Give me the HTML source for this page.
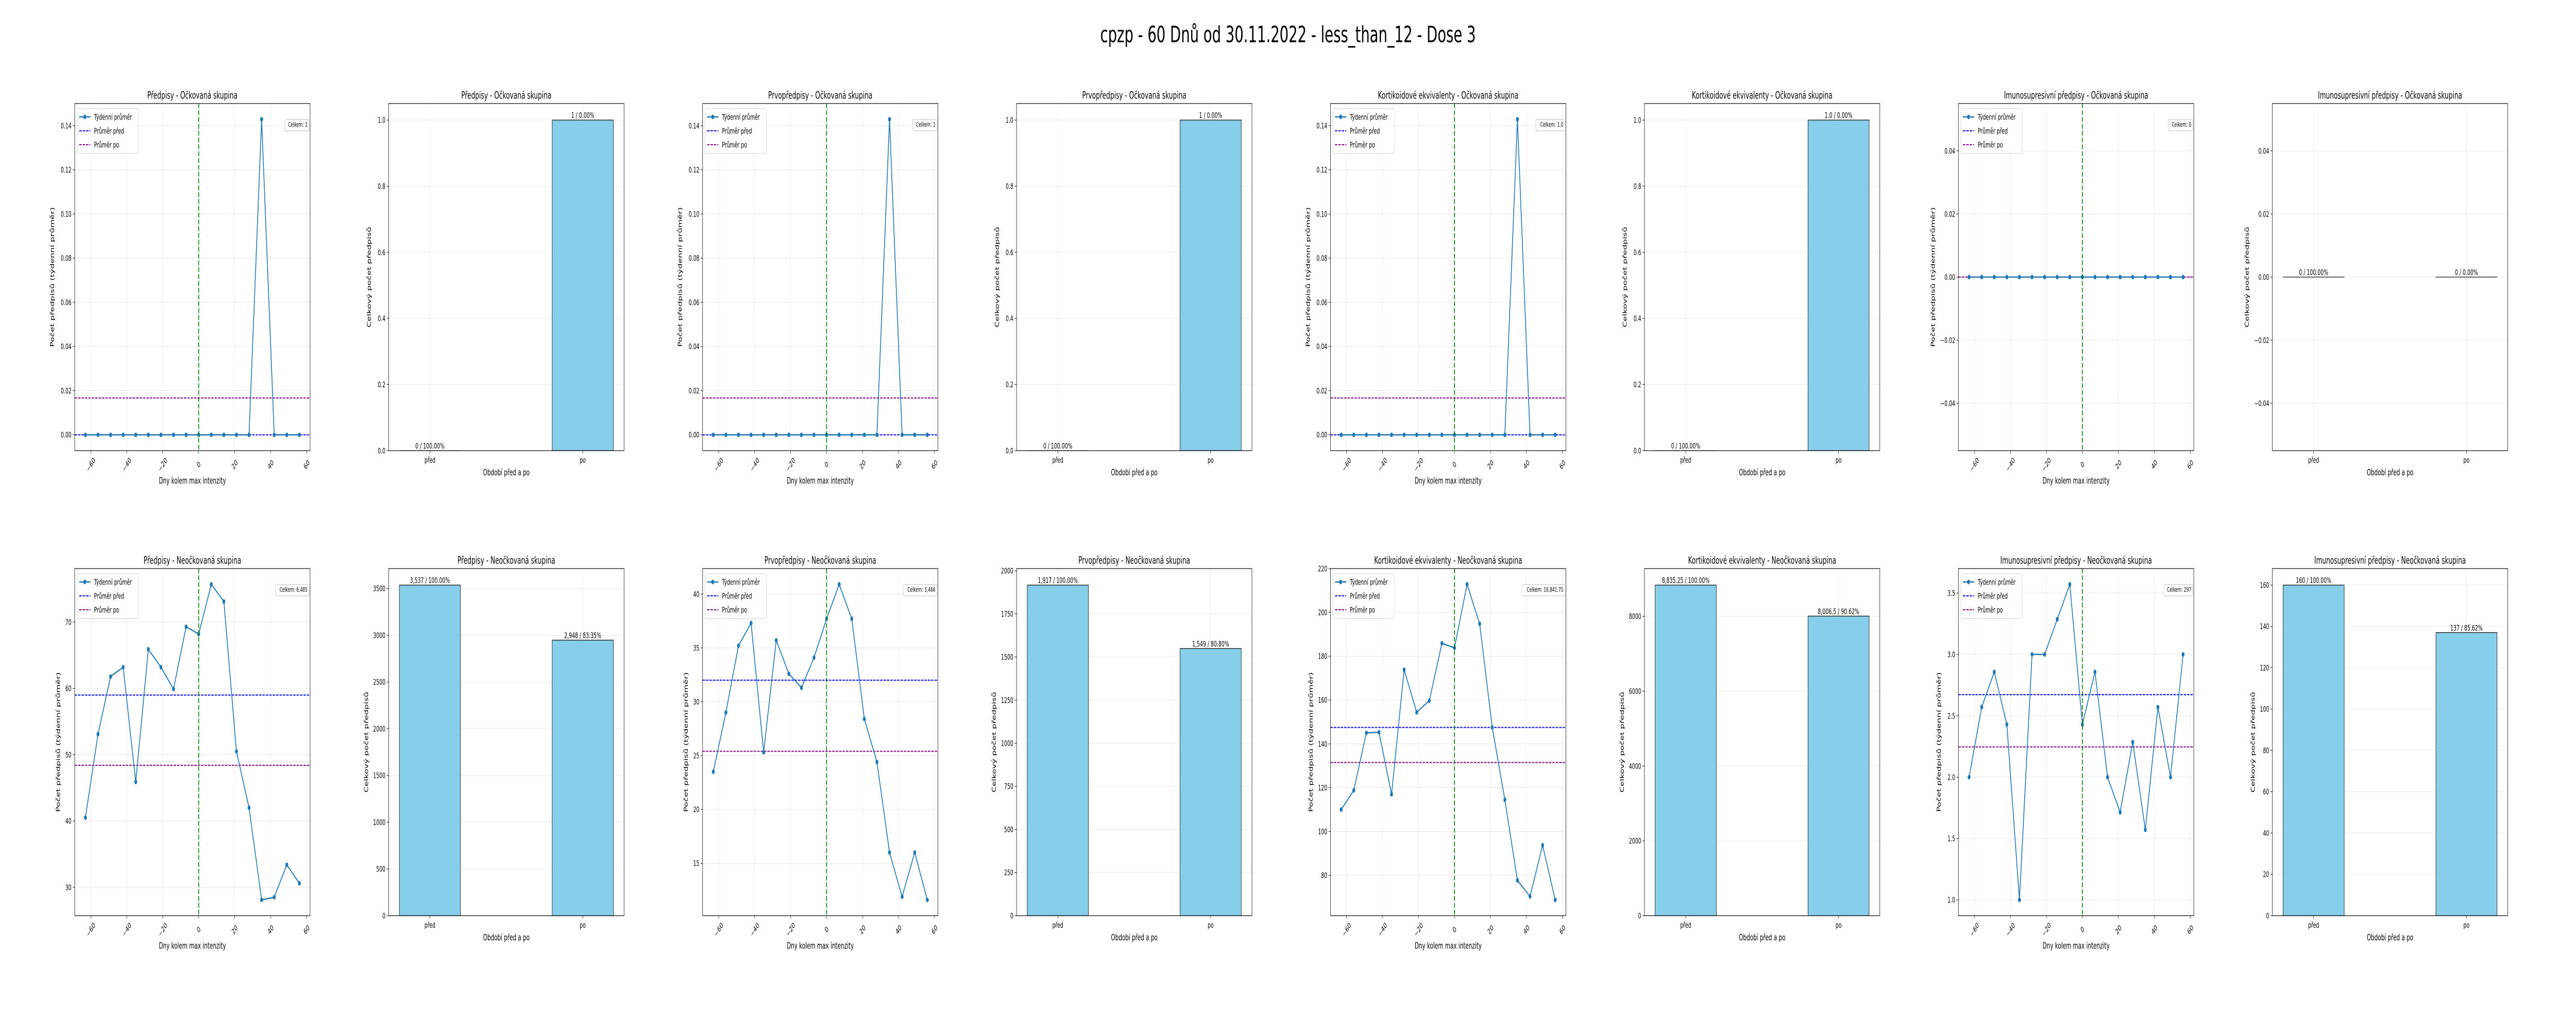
<!DOCTYPE html>
<html><head><meta charset="utf-8">
<style>
html,body{margin:0;padding:0;background:#fff;width:100%;height:100%;overflow:hidden;}
svg{display:block;width:100vw;height:100vh;font-family:"DejaVu Sans","Liberation Sans",sans-serif;}
</style></head>
<body>
<svg id="fig" viewBox="0 0 8000 2000" preserveAspectRatio="none" xmlns="http://www.w3.org/2000/svg">
<rect x="0" y="0" width="8000" height="2000" fill="#fff"/>
<text x="4000" y="67" font-size="44" text-anchor="middle" dominant-baseline="central">cpzp - 60 Dnů od 30.11.2022 - less_than_12 - Dose 3</text>
</svg>
<script>
// ---------- data ----------
const weeks = [-63,-56,-49,-42,-35,-28,-21,-14,-7,0,7,14,21,28,35,42,49,56];
const predVacc = [0,0,0,0,0,0,0,0,0,0,0,0,0,0,0.142857,0,0,0];
const prvoVacc = [0,0,0,0,0,0,0,0,0,0,0,0,0,0,0.142857,0,0,0];
const kortVacc = [0,0,0,0,0,0,0,0,0,0,0,0,0,0,0.142857,0,0,0];
const imunVacc = [0,0,0,0,0,0,0,0,0,0,0,0,0,0,0,0,0,0];
const predUnvac = [40.5,53.1,61.8,63.2,45.9,65.9,63.2,59.9,69.3,68.2,75.7,73.1,50.5,42.0,28.1,28.5,33.4,30.6];
const prvoUnvac = [23.5,29.0,35.2,37.3,25.3,35.7,32.6,31.3,34.1,37.7,40.9,37.7,28.4,24.4,16.0,11.9,16.0,11.6];
const kortUnvac = [110.0,118.8,145.0,145.3,117.0,173.8,154.4,159.7,185.9,183.8,212.8,194.8,147.5,114.5,77.7,70.4,93.7,68.8];
const imunUnvac = [2.0,2.571,2.857,2.429,1.0,3.0,3.0,3.286,3.571,2.429,2.857,2.0,1.714,2.286,1.571,2.571,2.0,3.0];
const meanBefore = [0, 0, 0, 0, 59.0, 32.0, 147.5, 2.672];
const meanAfter = [0.0167, 0.0167, 0.0167, 0, 48.4, 25.4, 131.5, 2.246];
const totalLabels = ["Celkem: 1","Celkem: 1","Celkem: 1.0","Celkem: 0","Celkem: 6,485","Celkem: 3,466","Celkem: 16,841.75","Celkem: 297"];
const barCats = ["před","po"];
const barPredVacc = [0,1];
const barPrvoVacc = [0,1];
const barKortVacc = [0,1];
const barImunVacc = [0,0];
const barPredUnvac = [3537,2948];
const barPrvoUnvac = [1917,1549];
const barKortUnvac = [8835.25,8006.5];
const barImunUnvac = [160,137];
const barLabelsVacc1 = ["0 / 100.00%","1 / 0.00%"];
const barLabelsVacc2 = ["0 / 100.00%","1 / 0.00%"];
const barLabelsVacc3 = ["0 / 100.00%","1.0 / 0.00%"];
const barLabelsVacc4 = ["0 / 100.00%","0 / 0.00%"];
const barLabelsUn1 = ["3,537 / 100.00%","2,948 / 83.35%"];
const barLabelsUn2 = ["1,917 / 100.00%","1,549 / 80.80%"];
const barLabelsUn3 = ["8,835.25 / 100.00%","8,006.5 / 90.62%"];
const barLabelsUn4 = ["160 / 100.00%","137 / 85.62%"];
const xTicks = [-60,-40,-20,0,20,40,60];
const yTicksTopLine = [0,0.02,0.04,0.06,0.08,0.10,0.12,0.14];
const yTicksZero = [-0.04,-0.02,0,0.02,0.04];
const yTicksTopBar = [0,0.2,0.4,0.6,0.8,1.0];
const yTicksPredUn = [30,40,50,60,70];
const yTicksPrvoUn = [15,20,25,30,35,40];
const yTicksKortUn = [80,100,120,140,160,180,200,220];
const yTicksImunUn = [1.0,1.5,2.0,2.5,3.0,3.5];
const yTicksBarPred = [0,500,1000,1500,2000,2500,3000,3500];
const yTicksBarPrvo = [0,250,500,750,1000,1250,1500,1750,2000];
const yTicksBarKort = [0,2000,4000,6000,8000];
const yTicksBarImun = [0,20,40,60,80,100,120,140,160];

// ---------- layout ----------
const svg = document.getElementById('fig');
const NS = 'http://www.w3.org/2000/svg';
const W = 731, H = 674;
const colLeft = c => 232 + 975*c;
const rowTop = [201, 1104];
function el(tag, attrs, parent){
  const e = document.createElementNS(NS, tag);
  for (const k in attrs) e.setAttribute(k, attrs[k]);
  (parent||svg).appendChild(e);
  return e;
}
function fmt(v, dec){ let s = v.toFixed(dec); if (v < 0) s = '\u2212' + s.slice(1); return s; }
function estW(s){ return s.length * 9.2; }

function axesFrame(g, L, T, title, ylabel, yTicks, dec, yMap){
  const t = el('text', {x: L+W/2, y: T-16, 'font-size': 19.5, 'text-anchor':'middle', 'dominant-baseline':'central'}, g);
  
  
  t.textContent = title;
  let maxW = 0;
  yTicks.forEach(v => {
    const y = yMap(v);
    const gl = el('line', {x1:L, x2:L+W, y1:y, y2:y, stroke:'#b0b0b0', 'stroke-opacity':0.3, 'stroke-width':1}, g);
    
    
    el('line', {x1:L-6, x2:L, y1:y, y2:y, stroke:'#000', 'stroke-width':1}, g);
    const tl = el('text', {x:L-10, y:y, 'font-size':15, 'text-anchor':'end', 'dominant-baseline':'central'}, g);
    
    
    tl.textContent = fmt(v, dec);
    maxW = Math.max(maxW, estW(tl.textContent));
  });
  const yl = el('text', {'font-size':16.7, 'text-anchor':'middle', 'dominant-baseline':'central'}, g);
  const yx = L - maxW - 32, yy = T + H/2;
  yl.setAttribute('transform', `translate(${yx},${yy}) rotate(-90)`);
  
  
  yl.textContent = ylabel;
}
function frameBorder(g, L, T){
  const r = el('rect', {x:L, y:T, width:W, height:H, fill:'none', stroke:'#000', 'stroke-width':1.2}, g);
  
  
}
function yRange(vals){
  let mn = Math.min(...vals), mx = Math.max(...vals);
  if (mx - mn < 1e-12){ return [mn-0.055, mx+0.055]; }
  const p = (mx-mn)*0.05; return [mn-p, mx+p];
}

function linePanel(c, r, title, vals, yTicks, dec, idx){
  const L = colLeft(c), T = rowTop[r];
  const g = el('g', {});
  
  
  const xmin = -68.95, xmax = 61.95;
  const [ymin, ymax] = yRange(vals.concat([meanBefore[idx], meanAfter[idx]]));
  const xMap = v => L + (v - xmin)/(xmax - xmin)*W;
  const yMap = v => T + H - (v - ymin)/(ymax - ymin)*H;
  axesFrame(g, L, T, title, 'Počet předpisů (týdenní průměr)', yTicks, dec, yMap);
  xTicks.forEach(v => {
    const x = xMap(v);
    const gl = el('line', {x1:x, x2:x, y1:T, y2:T+H, stroke:'#b0b0b0', 'stroke-opacity':0.3, 'stroke-width':1}, g);
    
    
    el('line', {x1:x, x2:x, y1:T+H, y2:T+H+6, stroke:'#000', 'stroke-width':1}, g);
    const tl = el('text', {'font-size':15, 'text-anchor':'middle', 'dominant-baseline':'central', transform:`translate(${x},${T+H+27}) rotate(-45)`}, g);
    
    
    tl.textContent = fmt(v, 0);
  });
  const xl = el('text', {x:L+W/2, y:T+H+59, 'font-size':16.7, 'text-anchor':'middle', 'dominant-baseline':'central'}, g);
  
  
  xl.textContent = 'Dny kolem max intenzity';
  const cid = 'clip'+c+'_'+r;
  const cp = el('clipPath', {id:cid}, g);
  el('rect', {x:L, y:T, width:W, height:H}, cp);
  const pg = el('g', {'clip-path':`url(#${cid})`}, g);
  const mb = el('line', {x1:L, x2:L+W, y1:yMap(meanBefore[idx]), y2:yMap(meanBefore[idx]), stroke:'#0000ff', 'stroke-width':2, 'stroke-dasharray':'7.4,3.2'}, pg);
  
  
  const ma = el('line', {x1:L, x2:L+W, y1:yMap(meanAfter[idx]), y2:yMap(meanAfter[idx]), stroke:'#800080', 'stroke-width':2, 'stroke-dasharray':'7.4,3.2'}, pg);
  
  
  const pts = weeks.map((w,i) => xMap(w).toFixed(2)+','+yMap(vals[i]).toFixed(2)).join(' ');
  const pl = el('polyline', {points:pts, fill:'none', stroke:'#1f77b4', 'stroke-width':2.5, 'stroke-linejoin':'round'}, pg);
  
  
  weeks.forEach((w,i) => {
    const m = el('circle', {cx:xMap(w), cy:yMap(vals[i]), r:4.5, fill:'#1f77b4'}, pg);
    
    
  });
  const vl = el('line', {x1:xMap(0), x2:xMap(0), y1:T, y2:T+H, stroke:'#008000', 'stroke-width':2.5, 'stroke-dasharray':'9.25,4'}, pg);
  
  
  frameBorder(g, L, T);
  const lg = el('g', {}, g);
  
  
  const bx = L+8, by = T+10;
  el('rect', {x:bx, y:by, width:190, height:87, rx:3, fill:'#fff', 'fill-opacity':0.8, stroke:'#cccccc', 'stroke-width':1}, lg);
  const items = [['Týdenní průměr','#1f77b4',null],['Průměr před','#0000ff','7.4,3.2'],['Průměr po','#800080','7.4,3.2']];
  items.forEach((it,i) => {
    const y = by + 16 + i*27;
    const ent = el('g', {}, lg);
    
    
    const a = {x1:bx+6, x2:bx+41, y1:y, y2:y, stroke:it[1], 'stroke-width': i===0?2.5:2};
    if (it[2]) a['stroke-dasharray'] = it[2];
    el('line', a, ent);
    if (i===0) el('circle', {cx:bx+23.5, cy:y, r:4.5, fill:it[1]}, ent);
    const tx = el('text', {x:bx+52, y:y, 'font-size':15, 'dominant-baseline':'central'}, ent);
    tx.textContent = it[0];
  });
  const tb = el('g', {}, g);
  
  
  const tw = totalLabels[idx].length * 7.3;
  el('rect', {x:L+W-8-tw-5, y:T+31, width:tw+10, height:22, rx:3, fill:'#fff', stroke:'#bbbbbb', 'stroke-width':1}, tb);
  const tt = el('text', {x:L+W-8, y:T+42, 'font-size':12, 'text-anchor':'end', 'dominant-baseline':'central'}, tb);
  tt.textContent = totalLabels[idx];
}

function barPanel(c, r, title, vals, labels, yTicks, dec){
  const L = colLeft(c), T = rowTop[r];
  const g = el('g', {});
  
  
  const xmin = -0.27, xmax = 1.27;
  const mx = Math.max(...vals);
  const ymin = mx > 0 ? 0 : -0.055, ymax = mx > 0 ? mx*1.05 : 0.055;
  const xMap = v => L + (v - xmin)/(xmax - xmin)*W;
  const yMap = v => T + H - (v - ymin)/(ymax - ymin)*H;
  axesFrame(g, L, T, title, 'Celkový počet předpisů', yTicks, dec, yMap);
  barCats.forEach((cat,i) => {
    const x = xMap(i);
    const gl = el('line', {x1:x, x2:x, y1:T, y2:T+H, stroke:'#b0b0b0', 'stroke-opacity':0.3, 'stroke-width':1}, g);
    
    
    el('line', {x1:x, x2:x, y1:T+H, y2:T+H+6, stroke:'#000', 'stroke-width':1}, g);
    const tl = el('text', {x:x, y:T+H+18, 'font-size':15, 'text-anchor':'middle', 'dominant-baseline':'central'}, g);
    
    
    tl.textContent = cat;
  });
  const xl = el('text', {x:L+W/2, y:T+H+43, 'font-size':16.7, 'text-anchor':'middle', 'dominant-baseline':'central'}, g);
  
  
  xl.textContent = 'Období před a po';
  vals.forEach((v,i) => {
    const x0 = xMap(i-0.2), x1 = xMap(i+0.2);
    const y0 = yMap(0), y1 = yMap(v);
    const b = el('rect', {x:x0, y:Math.min(y0,y1), width:x1-x0, height:Math.max(Math.abs(y0-y1),0.01), fill:'#87ceeb', stroke:'#000', 'stroke-width':1.2}, g);
    
    
    const lb = el('text', {x:xMap(i), y:y1-4, 'font-size':15, 'text-anchor':'middle'}, g);
    
    
    lb.textContent = labels[i];
  });
  frameBorder(g, L, T);
}

linePanel(0,0,'Předpisy - Očkovaná skupina', predVacc, yTicksTopLine, 2, 0);
barPanel(1,0,'Předpisy - Očkovaná skupina', barPredVacc, barLabelsVacc1, yTicksTopBar, 1);
linePanel(2,0,'Prvopředpisy - Očkovaná skupina', prvoVacc, yTicksTopLine, 2, 1);
barPanel(3,0,'Prvopředpisy - Očkovaná skupina', barPrvoVacc, barLabelsVacc2, yTicksTopBar, 1);
linePanel(4,0,'Kortikoidové ekvivalenty - Očkovaná skupina', kortVacc, yTicksTopLine, 2, 2);
barPanel(5,0,'Kortikoidové ekvivalenty - Očkovaná skupina', barKortVacc, barLabelsVacc3, yTicksTopBar, 1);
linePanel(6,0,'Imunosupresivní předpisy - Očkovaná skupina', imunVacc, yTicksZero, 2, 3);
barPanel(7,0,'Imunosupresivní předpisy - Očkovaná skupina', barImunVacc, barLabelsVacc4, yTicksZero, 2);
linePanel(0,1,'Předpisy - Neočkovaná skupina', predUnvac, yTicksPredUn, 0, 4);
barPanel(1,1,'Předpisy - Neočkovaná skupina', barPredUnvac, barLabelsUn1, yTicksBarPred, 0);
linePanel(2,1,'Prvopředpisy - Neočkovaná skupina', prvoUnvac, yTicksPrvoUn, 0, 5);
barPanel(3,1,'Prvopředpisy - Neočkovaná skupina', barPrvoUnvac, barLabelsUn2, yTicksBarPrvo, 0);
linePanel(4,1,'Kortikoidové ekvivalenty - Neočkovaná skupina', kortUnvac, yTicksKortUn, 0, 6);
barPanel(5,1,'Kortikoidové ekvivalenty - Neočkovaná skupina', barKortUnvac, barLabelsUn3, yTicksBarKort, 0);
linePanel(6,1,'Imunosupresivní předpisy - Neočkovaná skupina', imunUnvac, yTicksImunUn, 1, 7);
barPanel(7,1,'Imunosupresivní předpisy - Neočkovaná skupina', barImunUnvac, barLabelsUn4, yTicksBarImun, 0);
</script>
</body></html>
